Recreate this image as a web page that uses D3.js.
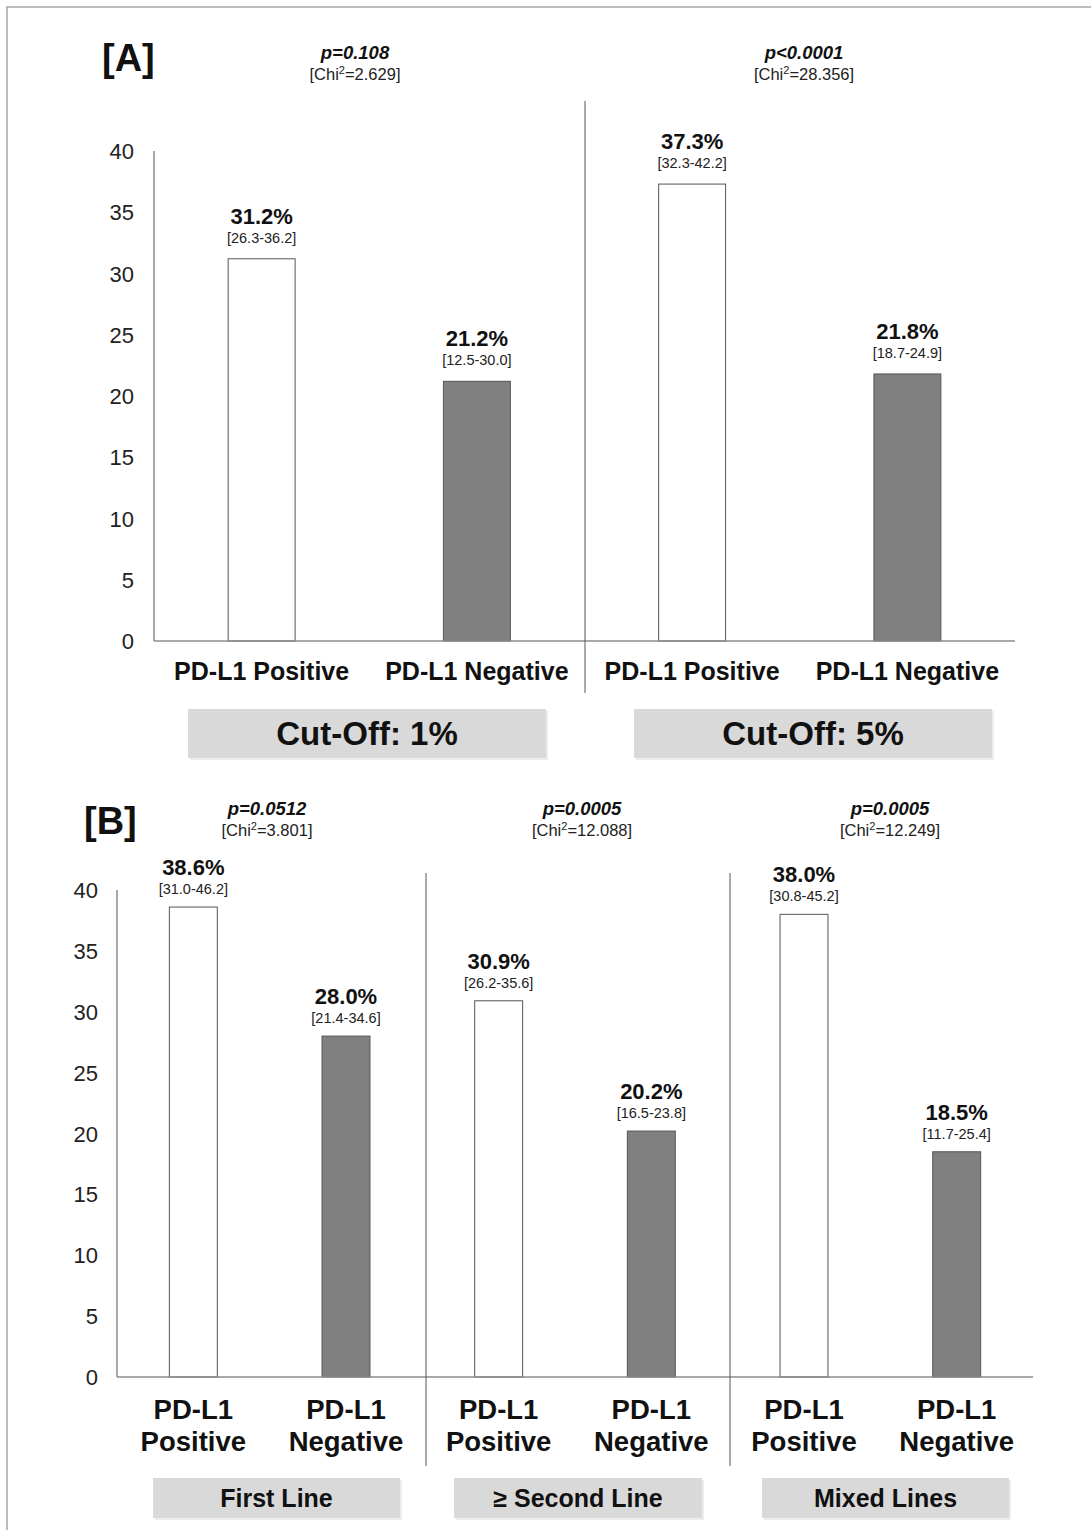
<!DOCTYPE html>
<html><head><meta charset="utf-8">
<script src="https://cdn.jsdelivr.net/npm/d3@7"></script>
<style>body{margin:0;background:#fff}svg{display:block;font-family:"Liberation Sans",Arial,sans-serif}</style>
</head><body>
<svg id="chart" width="1091" height="1530"></svg>
<script>
// ---- Panel A data ----
const aCategories = ["PD-L1 Positive","PD-L1 Negative","PD-L1 Positive","PD-L1 Negative"];
const aGroups = ["Cut-Off: 1%","Cut-Off: 5%"];
const aValues = [31.2, 21.2, 37.3, 21.8];
const aCI = ["[26.3-36.2]","[12.5-30.0]","[32.3-42.2]","[18.7-24.9]"];
const aPvals = ["p=0.108","p<0.0001"];
const aChi = ["2.629","28.356"];
// ---- Panel B data ----
const bCategories = [["PD-L1","Positive"],["PD-L1","Negative"],["PD-L1","Positive"],["PD-L1","Negative"],["PD-L1","Positive"],["PD-L1","Negative"]];
const bGroups = ["First Line","\u2265 Second Line","Mixed Lines"];
const bValues = [38.6, 28.0, 30.9, 20.2, 38.0, 18.5];
const bCI = ["[31.0-46.2]","[21.4-34.6]","[26.2-35.6]","[16.5-23.8]","[30.8-45.2]","[11.7-25.4]"];
const bPvals = ["p=0.0512","p=0.0005","p=0.0005"];
const bChi = ["3.801","12.088","12.249"];
const yTicks = [0,5,10,15,20,25,30,35,40];

const svg = d3.select("#chart");
// outer border
svg.append("rect").attr("x",7).attr("y",7).attr("width",1200).attr("height",1600)
  .attr("fill","none").attr("stroke","#a6a6a6").attr("stroke-width",1.5);

const fills = ["#ffffff","#808080"];

function panel(cfg){
  const g = svg.append("g");
  const x = d3.scaleBand().domain(d3.range(cfg.values.length)).range([cfg.x0,cfg.x1]).paddingInner(cfg.pad).paddingOuter(cfg.pad/2);
  const y = d3.scaleLinear().domain([0,40]).range([cfg.y0,cfg.yTop]);
  // y axis line
  g.append("line").attr("x1",cfg.x0).attr("x2",cfg.x0).attr("y1",y(40)).attr("y2",y(0)).attr("stroke","#8c8c8c").attr("stroke-width",1.5);
  // tick labels
  g.selectAll("text.tick").data(yTicks).join("text")
    .attr("x",cfg.x0-cfg.tickGap).attr("y",d=>y(d)+8).attr("text-anchor","end")
    .attr("font-size",22).attr("fill","#222").text(d=>d);
  // bars
  g.selectAll("rect.bar").data(cfg.values).join("rect")
    .attr("x",(d,i)=>x(i)).attr("width",x.bandwidth())
    .attr("y",d=>y(d)).attr("height",d=>y(0)-y(d))
    .attr("fill",(d,i)=>fills[i%2]).attr("stroke","#555").attr("stroke-width",1);
  // baseline
  g.append("line").attr("x1",cfg.x0).attr("x2",cfg.x1).attr("y1",y(0)).attr("y2",y(0)).attr("stroke","#8c8c8c").attr("stroke-width",1.5);
  // dividers
  cfg.divX.forEach(xd=>{
    g.append("line").attr("x1",xd).attr("x2",xd).attr("y1",cfg.divTop).attr("y2",cfg.divBot).attr("stroke","#555").attr("stroke-width",1);
  });
  // value labels
  g.selectAll("text.val").data(cfg.values).join("text")
    .attr("x",(d,i)=>x(i)+x.bandwidth()/2).attr("y",d=>y(d)-cfg.valOff)
    .attr("text-anchor","middle").attr("font-weight","bold").attr("font-size",22).attr("fill","#111")
    .text(d=>d.toFixed(1)+"%");
  g.selectAll("text.ci").data(cfg.ci).join("text")
    .attr("x",(d,i)=>x(i)+x.bandwidth()/2).attr("y",(d,i)=>y(cfg.values[i])-cfg.ciOff)
    .attr("text-anchor","middle").attr("font-size",14.5).attr("fill","#222").text(d=>d);
  // p-values
  cfg.pvals.forEach((p,k)=>{
    const cx = cfg.pX[k];
    g.append("text").attr("x",cx).attr("y",cfg.pY).attr("text-anchor","middle")
      .attr("font-weight","bold").attr("font-style","italic").attr("font-size",18.5).attr("fill","#111").text(p);
    const t = g.append("text").attr("x",cx).attr("y",cfg.pY+21).attr("text-anchor","middle")
      .attr("font-size",16.5).attr("fill","#222");
    t.append("tspan").text("[Chi");
    t.append("tspan").attr("font-size",11).attr("dy",-6).text("2");
    t.append("tspan").attr("dy",6).text("="+cfg.chi[k]+"]");
  });
  // category labels
  cfg.cats.forEach((c,i)=>{
    const lines = Array.isArray(c)?c:[c];
    lines.forEach((ln,j)=>{
      g.append("text").attr("x",x(i)+x.bandwidth()/2).attr("y",cfg.catY+j*cfg.catLH)
        .attr("text-anchor","middle").attr("font-weight","bold").attr("font-size",cfg.catFS).attr("fill","#111").text(ln);
    });
  });
  // group boxes
  cfg.groups.forEach((gr,k)=>{
    const b = cfg.boxes[k];
    g.append("rect").attr("x",b[0]+2).attr("y",cfg.boxY+2).attr("width",b[1]-b[0]).attr("height",cfg.boxH).attr("fill","#ececec");
    g.append("rect").attr("x",b[0]).attr("y",cfg.boxY).attr("width",b[1]-b[0]).attr("height",cfg.boxH).attr("fill","#d9d9d9");
    g.append("text").attr("x",(b[0]+b[1])/2).attr("y",cfg.boxY+cfg.boxH/2+cfg.boxFS*0.36)
      .attr("text-anchor","middle").attr("font-weight","bold").attr("font-size",cfg.boxFS).attr("fill","#111").text(gr);
  });
  // panel letter
  g.append("text").attr("x",cfg.letter[0]).attr("y",cfg.letter[1]).attr("font-weight","bold").attr("font-size",38).attr("fill","#111").text(cfg.letter[2]);
}

panel({
  values:aValues, ci:aCI, cats:aCategories, groups:aGroups, pvals:aPvals, chi:aChi,
  x0:154, x1:1015, yTop:151, y0:641, pad:0.689, tickGap:20,
  divX:[585], divTop:101, divBot:693, valOff:35, ciOff:16,
  pX:[355,804], pY:59, catY:680, catLH:0, catFS:25,
  boxes:[[188,546],[634,992]], boxY:709, boxH:49, boxFS:33,
  letter:[102,71,"[A]"]
});
panel({
  values:bValues, ci:bCI, cats:bCategories, groups:bGroups, pvals:bPvals, chi:bChi,
  x0:117, x1:1033, yTop:890, y0:1377, pad:0.686, tickGap:19,
  divX:[426,730], divTop:873, divBot:1466, valOff:32, ciOff:13,
  pX:[267,582,890], pY:815, catY:1419, catLH:32, catFS:27.5,
  boxes:[[153,400],[454,702],[762,1009]], boxY:1478, boxH:40, boxFS:25,
  letter:[84,834,"[B]"]
});
</script>
</body></html>
